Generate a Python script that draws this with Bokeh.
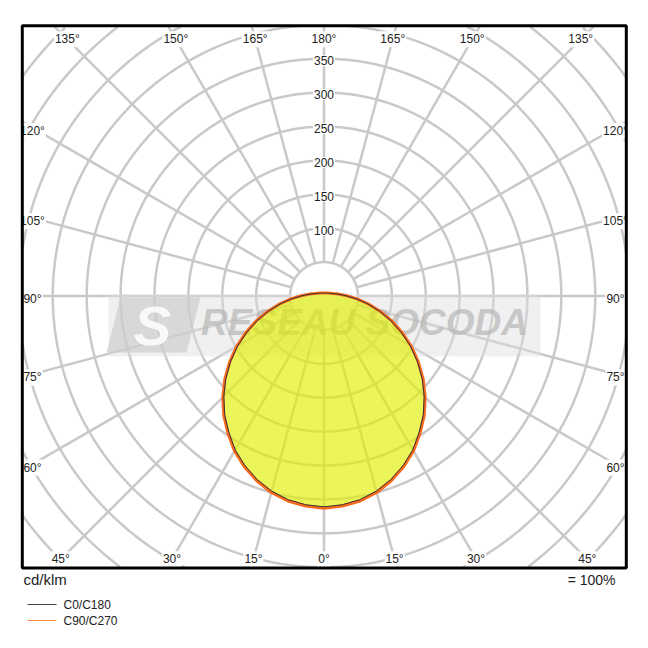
import math
from bokeh.plotting import figure
from bokeh.models import Range1d
from bokeh.core.properties import value
from bokeh.embed import file_html
from bokeh.resources import INLINE

# ---------------- data ----------------
gamma = [0, 5, 10, 15, 20, 25, 30, 35, 40, 45, 50, 55, 60, 65, 70, 75, 80, 85, 90,
         95, 100, 105, 110, 115, 120, 125, 130, 135, 140, 145, 150, 155, 160, 165, 170, 175, 180]
c90_c270 = [313, 311, 307, 300, 290, 278, 264, 247, 230, 211, 191, 170, 149, 127, 106, 85, 66, 49, 35,
            25, 19, 14, 12, 10, 8.5, 7.5, 6.8, 6.2, 5.8, 5.4, 5.1, 4.9, 4.7, 4.6, 4.5, 4.4, 4.4]
c0_c180 = [311, 309, 305, 298, 288, 276, 262, 245, 228, 209, 189, 168, 147, 125, 104, 84, 65, 48, 34,
           24, 18, 13, 11, 9.5, 8, 7, 6.4, 5.8, 5.4, 5.0, 4.7, 4.5, 4.3, 4.2, 4.1, 4.0, 4.0]
circle_values = [50, 100, 150, 200, 250, 300, 350, 400, 450, 500, 550, 600, 650]
radial_labels = [100, 150, 200, 250, 300, 350]
grid_angles = list(range(0, 360, 15))
top_angles = [135, 150, 165, 180, 165, 150, 135]
top_sides = [-1, -1, -1, 0, 1, 1, 1]
side_angles = [120, 105, 90, 75, 60]
bottom_angles = [45, 30, 15, 0, 15, 30, 45]
bottom_sides = [-1, -1, -1, 0, 1, 1, 1]
series_names = ["C0/C180", "C90/C270"]
unit_label = "cd/klm"
scale_label = "= 100%"
watermark = "RESEAU SOCODA"

# ---------------- layout ----------------
W = H = 632
K = 0.678              # px per cd/klm
OX = OY = 0            # offset of the figure in the picture
CX, CY = 323.5, 295.5  # centre in picture px


def X(px):
    return (px - OX - CX) / K


def Y(py):
    return (CY - (py - OY)) / K


p = figure(width=W, height=H, output_backend="svg", toolbar_location=None,
           x_range=Range1d(-CX / K, (W - CX) / K), y_range=Range1d(-(H - CY) / K, CY / K),
           x_axis_type=None, y_axis_type=None, min_border=0,
           background_fill_color="white", border_fill_color="white")
p.outline_line_color = None

GRID = "#c9c9c9"
FONT = value("Liberation Sans")
fl, fr, ft, fb = X(21.8), X(625.8), Y(25.3), Y(567.6)


def inside(x, y):
    return fl <= x <= fr and fb <= y <= ft


# grid circles, kept inside the frame
cxs, cys = [], []
for r in circle_values:
    seg_x, seg_y = [], []
    for i in range(0, 721):
        t = math.radians(i * 0.5)
        x, y = r * math.cos(t), r * math.sin(t)
        if inside(x, y):
            seg_x.append(x)
            seg_y.append(y)
        elif seg_x:
            cxs.append(seg_x)
            cys.append(seg_y)
            seg_x, seg_y = [], []
    if seg_x:
        cxs.append(seg_x)
        cys.append(seg_y)
p.multi_line(cxs, cys, line_color=GRID, line_width=2.5)

# radial lines, ending at the frame
rx0, ry0, rx1, ry1 = [], [], [], []
r0 = circle_values[0]
for a in grid_angles:
    dx, dy = math.sin(math.radians(a)), -math.cos(math.radians(a))
    ts = []
    if dx > 1e-9:
        ts.append(fr / dx)
    if dx < -1e-9:
        ts.append(fl / dx)
    if dy > 1e-9:
        ts.append(ft / dy)
    if dy < -1e-9:
        ts.append(fb / dy)
    t = min(ts)
    rx0.append(r0 * dx)
    ry0.append(r0 * dy)
    rx1.append(t * dx)
    ry1.append(t * dy)
p.segment(x0=rx0, y0=ry0, x1=rx1, y1=ry1, line_color=GRID, line_width=2.5)

# watermark
p.quad(left=[X(108)], right=[X(540)], top=[Y(294)], bottom=[Y(356)],
       fill_color="#dddddd", fill_alpha=0.45, line_color=None)
p.patch(x=[X(120), X(200), X(186), X(106)], y=[Y(297), Y(297), Y(352), Y(352)],
        fill_color="#c8c8c8", fill_alpha=0.6, line_color=None)
p.text(x=[X(152)], y=[Y(325)], text=["S"], text_font=FONT, text_font_size="56px",
       text_font_style="bold italic", text_color="white", text_alpha=0.85,
       text_align="center", text_baseline="middle")
p.text(x=[X(364)], y=[Y(322)], text=[watermark], text_font=FONT,
       text_font_size="37px", text_font_style="bold italic", text_color="#b5b5b5", text_alpha=0.7,
       text_align="center", text_baseline="middle")


def curve(vals):
    xs = [v * math.sin(math.radians(g)) for g, v in zip(gamma, vals)]
    ys = [-v * math.cos(math.radians(g)) for g, v in zip(gamma, vals)]
    xl = [-x for x in reversed(xs)]
    yl = list(reversed(ys))
    return xs + xl, ys + yl


xs90, ys90 = curve(c90_c270)
xs0, ys0 = curve(c0_c180)
p.patch(xs90, ys90, fill_color="#e1ee00", fill_alpha=0.65, line_color=None)
p.line(xs90, ys90, line_color="#f96a1c", line_width=3, line_join="round")
p.line(xs0, ys0, line_color="#333333", line_width=1, line_join="round")

# radial value labels
p.text(x=[0] * len(radial_labels), y=[r - 2 / K for r in radial_labels],
       text=[str(r) for r in radial_labels], text_font=FONT, text_font_size="12px",
       text_color="#222222", text_align="center", text_baseline="middle",
       background_fill_color="white", padding=1)

# angle labels
TOP_D, BOT_D, SIDE_D = 256.7, 263.3, 291.5
tx = [s * TOP_D * math.tan(math.radians(180 - a)) for a, s in zip(top_angles, top_sides)]
ty = [TOP_D] * len(top_angles)
bx = [s * BOT_D * math.tan(math.radians(a)) for a, s in zip(bottom_angles, bottom_sides)]
by = [-BOT_D] * len(bottom_angles)
sx, sy, st = [], [], []
for s in (-1, 1):
    for a in side_angles:
        sx.append(s * SIDE_D)
        sy.append(-SIDE_D * math.cos(math.radians(a)) / math.sin(math.radians(a)) - 3.3)
        st.append(f"{a}°")
ax = [v / K for v in tx + bx + sx]
ay = [v / K for v in ty + by + sy]
at = [f"{a}°" for a in top_angles] + [f"{a}°" for a in bottom_angles] + st
p.text(x=ax, y=ay, text=at, text_font=FONT, text_font_size="12px", text_color="#222222",
       text_align="center", text_baseline="middle", background_fill_color="white", padding=1)

# masks outside the frame and the frame
BIG = 1200
p.quad(left=[-BIG, fr, -BIG, -BIG], right=[fl, BIG, BIG, BIG],
       top=[BIG, BIG, BIG, fb], bottom=[-BIG, -BIG, ft, -BIG],
       fill_color="white", line_color=None)
p.quad(left=[fl], right=[fr], top=[ft], bottom=[fb], fill_color=None,
       line_color="black", line_width=3)

# bottom texts
p.text(x=[X(23)], y=[Y(579)], text=[unit_label], text_font=FONT, text_font_size="15px",
       text_color="#222222", text_align="left", text_baseline="middle")
p.text(x=[X(615)], y=[Y(579)], text=[scale_label], text_font=FONT, text_font_size="14px",
       text_color="#222222", text_align="right", text_baseline="middle")

# legend
leg_y = [Y(604), Y(620)]
p.segment(x0=[X(27)] * 2, y0=leg_y, x1=[X(56)] * 2, y1=leg_y,
          line_color=["#444444", "#ff8a4c"], line_width=1.2)
p.text(x=[X(63)] * 2, y=leg_y, text=series_names, text_font=FONT, text_font_size="12px",
       text_color="#222222", text_align="left", text_baseline="middle")

open("out.html", "w").write(file_html(p, INLINE))
